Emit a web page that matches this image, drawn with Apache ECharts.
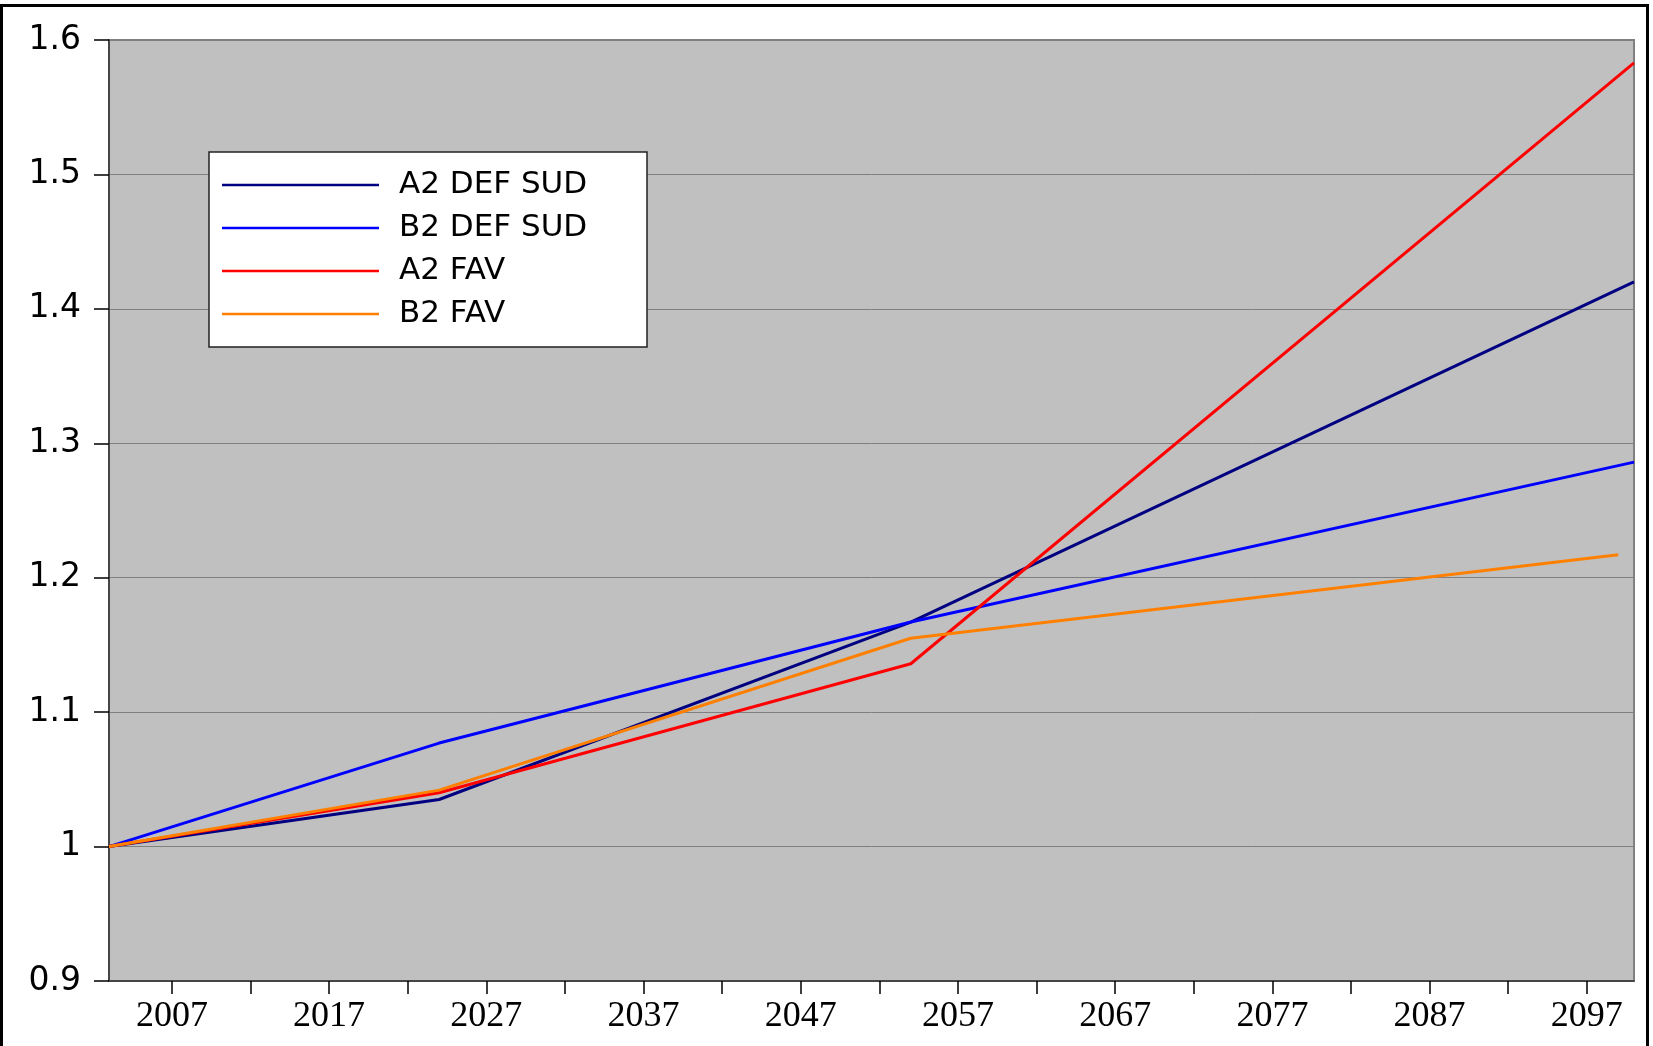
<!DOCTYPE html>
<html>
    <head>
        <meta charset="utf-8">
        <title>A2 / B2</title>
        <script src="https://cdn.jsdelivr.net/npm/echarts@6/dist/echarts.min.js"></script>
        <style>
            html, body { margin: 0; padding: 0; background: #ffffff; }
        </style>
    </head>
    <body>
        <div id="chart1" style="width: 1653px;height: 1046px"></div>
    </body>

    <script type="text/javascript">
        // years on the category axis
        var years = [];
        for (var y = 2003; y <= 2100; y++) years.push(String(y));

        // values
        var a2DefYears = ['2003', '2024', '2054', '2100'];
        var a2DefSud = [1.0, 1.035, 1.167, 1.420];
        var b2DefYears = ['2003', '2024', '2054', '2100'];
        var b2DefSud = [1.0, 1.077, 1.167, 1.286];
        var a2FavYears = ['2003', '2024', '2054', '2100'];
        var a2Fav = [1.0, 1.040, 1.136, 1.583];
        var b2FavYears = ['2003', '2024', '2054', '2099'];
        var b2Fav = [1.0, 1.042, 1.155, 1.217];

        var names = ['A2 DEF SUD', 'B2 DEF SUD', 'A2 FAV', 'B2 FAV'];
        var colors = ['#000080', '#0000ff', '#ff0000', '#ff8000'];

        function pairs(xs, vs) {
            return xs.map(function (x, i) { return [x, vs[i]]; });
        }
        var allData = [
            pairs(a2DefYears, a2DefSud),
            pairs(b2DefYears, b2DefSud),
            pairs(a2FavYears, a2Fav),
            pairs(b2FavYears, b2Fav)
        ];

        var myChart1 = echarts.init(document.getElementById('chart1'));
        myChart1.setOption({
            animation: false,
            graphic: [{
                type: 'rect',
                shape: { x: 1.5, y: 5.5, width: 1646, height: 1100 },
                style: { fill: null, stroke: '#000', lineWidth: 3 },
                z: 100
            }],
            grid: {
                left: 109, top: 40, right: 19, bottom: 65,
                show: true,
                backgroundColor: '#c0c0c0',
                borderColor: '#808080',
                borderWidth: 2
            },
            legend: {
                data: names.map(function (n) { return { name: n, icon: 'rect' }; }),
                orient: 'vertical',
                left: 209, top: 152,
                backgroundColor: '#ffffff',
                borderColor: '#222',
                borderWidth: 1.5,
                padding: [16, 20, 16, 13],
                itemWidth: 157,
                itemHeight: 2.5,
                itemGap: 9,
                textStyle: {
                    fontFamily: 'DejaVu Sans',
                    fontSize: 31,
                    lineHeight: 34,
                    color: '#000',
                    width: 228,
                    padding: [0, 0, 0, 15]
                }
            },
            xAxis: {
                type: 'category',
                data: years,
                boundaryGap: false,
                axisLine: { lineStyle: { color: '#333', width: 1.5 } },
                axisTick: {
                    length: 13,
                    interval: function (i, v) { return (parseInt(v) - 2007) % 5 === 0; },
                    lineStyle: { color: '#000', width: 1.5 }
                },
                axisLabel: {
                    interval: function (i, v) { return (parseInt(v) - 2007) % 10 === 0; },
                    fontFamily: 'Liberation Serif',
                    fontSize: 36,
                    color: '#000',
                    margin: 18
                },
                splitLine: { show: false }
            },
            yAxis: {
                type: 'value',
                min: 0.9, max: 1.6, interval: 0.1,
                axisLine: { show: true, lineStyle: { color: '#333', width: 1.5 } },
                axisTick: { show: true, length: 15, lineStyle: { color: '#000', width: 1.5 } },
                axisLabel: {
                    fontFamily: 'DejaVu Sans',
                    fontSize: 33,
                    color: '#000',
                    margin: 28,
                    formatter: function (v) { return String(+v.toFixed(1)); }
                },
                splitLine: { lineStyle: { color: '#808080', width: 1 } }
            },
            series: names.map(function (n, i) {
                return {
                    name: n,
                    type: 'line',
                    data: allData[i],
                    showSymbol: false,
                    symbol: 'none',
                    color: colors[i],
                    lineStyle: { color: colors[i], width: 3 }
                };
            })
        });
    </script>
</html>
